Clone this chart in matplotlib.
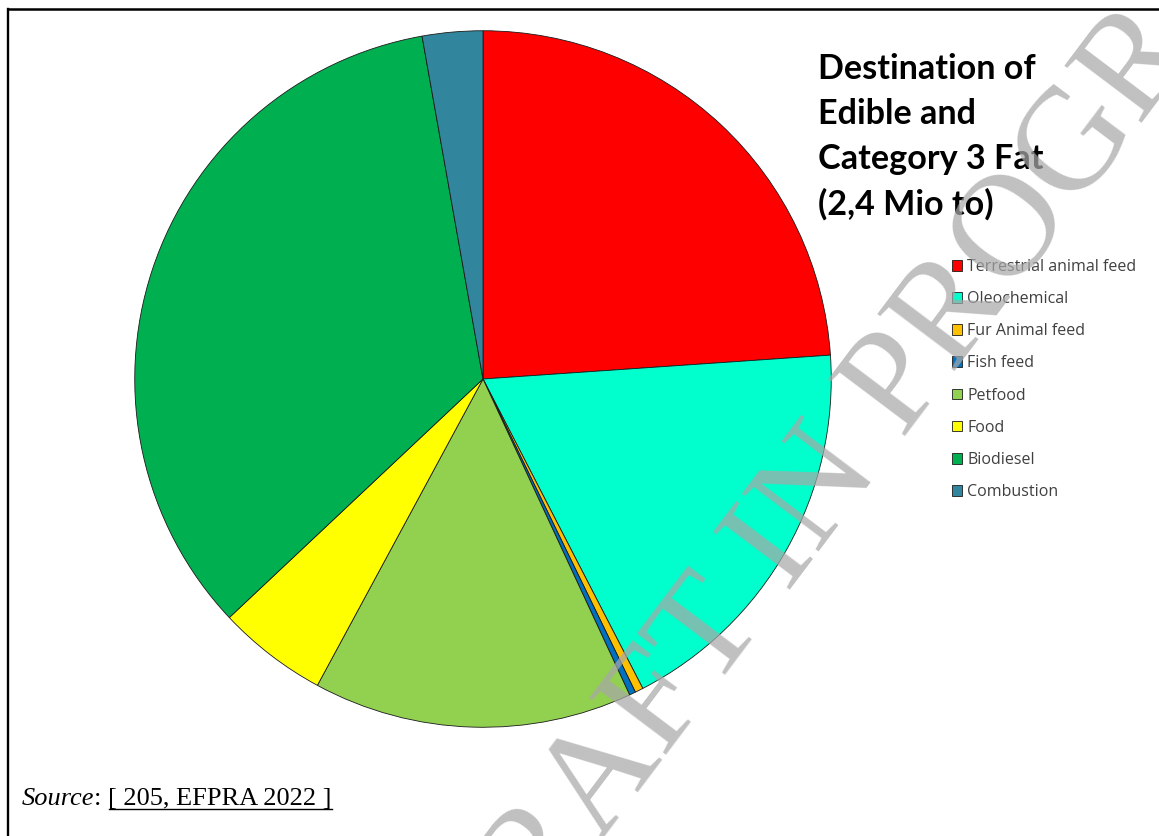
import matplotlib
matplotlib.use("Agg")
import matplotlib.pyplot as plt
from matplotlib.lines import Line2D

# shares of edible and category 3 fat by destination (%)
labels = ["Terrestrial animal feed", "Oleochemical", "Fur Animal feed", "Fish feed",
          "Petfood", "Food", "Biodiesel", "Combustion"]
shares = [23.9, 18.5, 0.38, 0.29, 14.8, 5.1, 34.2, 2.8]
colors = ["#FF0000", "#00FFCC", "#FFC000", "#0070C0",
          "#92D050", "#FFFF00", "#00B050", "#31859C"]

title = "Destination of\nEdible and\nCategory 3 Fat\n(2,4 Mio to)"

W, H = 1159, 836
fig = plt.figure(figsize=(W / 100, H / 100), dpi=100)
fig.patch.set_facecolor("white")

# pie axes, centred at (483, 379) px with radius 350 px
cx, cy, r = 483, 379, 350
ax = fig.add_axes([(cx - r) / W, (H - cy - r) / H, 2 * r / W, 2 * r / H])
wedges, _ = ax.pie(shares, colors=colors, startangle=90, counterclock=False,
                   radius=1.0,
                   wedgeprops=dict(edgecolor="#1a1a1a", linewidth=0.6))
ax.set_xlim(-1.005, 1.005)
ax.set_ylim(-1.005, 1.005)
ax.set_aspect("equal")
ax.axis("off")

fig.text(818 / W, 1 - 53 / H, title, ha="left", va="top", fontsize=24.6,
         fontweight="bold", family="Lato", linespacing=1.5, color="black")

leg = fig.legend(wedges, labels, loc="upper left", bbox_to_anchor=(952 / W, 1 - 259 / H),
                 frameon=False, handlelength=0.65, handleheight=0.65,
                 handletextpad=0.3, labelspacing=1.01, borderpad=0, borderaxespad=0,
                 prop={"family": "Open Sans", "size": 11.5})
for t in leg.get_texts():
    t.set_color("#404040")

# source note with underlined reference
fs = 19
base = 1 - 805 / H
src = fig.text(22 / W, base, "Source", style="italic", family="Liberation Serif",
               fontsize=fs, ha="left", va="baseline")
fig.canvas.draw()
rend = fig.canvas.get_renderer()
bb = src.get_window_extent(rend)
colon = fig.text(bb.x1 / W, base, ": ", family="Liberation Serif",
                 fontsize=fs, ha="left", va="baseline")
fig.canvas.draw()
bb2 = colon.get_window_extent(rend)
ref = fig.text(bb2.x1 / W, base, "[ 205, EFPRA 2022 ]", family="Liberation Serif",
               fontsize=fs, ha="left", va="baseline")
fig.canvas.draw()
bb3 = ref.get_window_extent(rend)
uy = (H - 809) / H
fig.add_artist(Line2D([bb3.x0 / W, bb3.x1 / W], [uy, uy], color="black", linewidth=1.0,
                      transform=fig.transFigure))

# page frame (top and left edges)
fig.add_artist(Line2D([7.8 / W, 1.0], [1 - 8.7 / H, 1 - 8.7 / H], color="black",
                      linewidth=1.8, transform=fig.transFigure))
fig.add_artist(Line2D([7.8 / W, 7.8 / W], [0, 1 - 8.7 / H], color="black",
                      linewidth=1.7, transform=fig.transFigure))

# draft watermark
fig.text(885 / W, 1 - 405 / H, "DRAFT IN PROGRESS", family="Liberation Serif",
         fontsize=106, color="#a8a8a8", alpha=0.72, rotation=53,
         ha="center", va="center", rotation_mode="anchor", zorder=10)

fig.savefig("out.png", dpi=100, facecolor="white")
